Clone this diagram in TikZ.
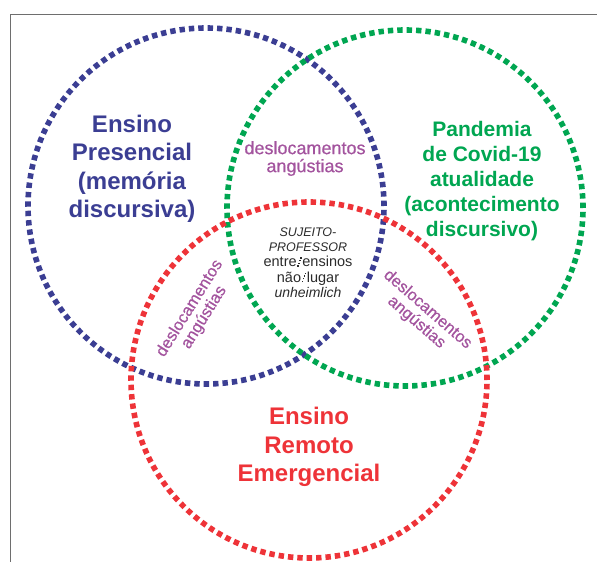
\documentclass[tikz,border=0pt]{standalone}
\usepackage{fontspec}
\setmainfont{Liberation Sans}
\newfontfamily\purpfont[FakeBold=0.6]{Liberation Sans}
\definecolor{cblue}{HTML}{3B3E93}
\definecolor{cgreen}{HTML}{00A651}
\definecolor{cred}{HTML}{EE3338}
\definecolor{cpurp}{HTML}{A3549E}
\definecolor{ctext}{HTML}{2B2B2B}
\definecolor{cframe}{HTML}{6E6E6E}
\newcommand{\dslash}{\kern0.6pt\rule{1.4pt}{1.4pt}\kern-0.35pt\rule[2.7pt]{1.4pt}{1.4pt}\kern-0.35pt\rule[5.4pt]{1.4pt}{1.4pt}\kern-0.35pt\rule[8.1pt]{1.4pt}{1.4pt}\kern0.6pt}
\begin{document}
\begin{tikzpicture}[x=1pt,y=-1pt,
  ring/.style={circle, draw, inner sep=0pt, minimum size=356pt, line width=5.6pt, dash pattern=on 5.4pt off 4pt},
  bigtxt/.style={align=center, inner sep=0pt, font=\fontsize{24}{28.5}\selectfont\bfseries},
  midtxt/.style={align=center, inner sep=0pt, font=\fontsize{21}{25}\selectfont\bfseries},
  purptxt/.style={align=center, inner sep=0pt, text=cpurp, font=\purpfont\fontsize{18}{18}\selectfont},
  rotptxt/.style={align=center, inner sep=0pt, text=cpurp, font=\purpfont\fontsize{16.5}{17}\selectfont},
  centtxt/.style={align=center, inner sep=0pt, text=ctext, font=\fontsize{12.5}{15.3}\selectfont}]
\useasboundingbox (0,0) rectangle (597,562);
\draw[cframe, line width=1.2pt] (10.5,562) -- (10.5,14.5) -- (597,14.5);
\node[ring, draw=cblue] (presencial) at (206,206) {};
\node[ring, draw=cgreen] (pandemia) at (405,208) {};
\node[ring, draw=cred] (remoto) at (309,380) {};
\node[bigtxt, text=cblue] (tpres) at (132,169) {Ensino\\Presencial\\(memória\\discursiva)};
\node[midtxt, text=cgreen] (tpand) at (482,181.5) {Pandemia\\de Covid-19\\atualidade\\(acontecimento\\discursivo)};
\node[bigtxt, text=cred] (trem) at (309,447) {Ensino\\Remoto\\Emergencial};
\node[purptxt] (dtop) at (305,158.5) {deslocamentos\\angústias};
\node[rotptxt, rotate=58] (dleft) at (197,313) {deslocamentos\\angústias};
\node[rotptxt, rotate=-41] (dright) at (422,316) {deslocamentos\\angústias};
\node[centtxt] (sujeito) at (308,262.5) {\textit{SUJEITO-}\\\textit{PROFESSOR}\\{\fontsize{14.5}{15.3}\selectfont entre\dslash ensinos}\\{\fontsize{14.5}{15.3}\selectfont não\dslash lugar}\\{\fontsize{14}{15.3}\selectfont\itshape unheimlich}};
\end{tikzpicture}
\end{document}
